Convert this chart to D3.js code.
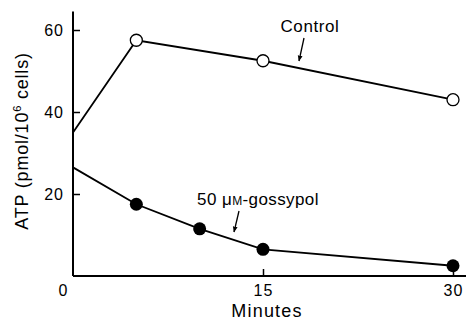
<!DOCTYPE html>
<html>
<head>
<meta charset="utf-8">
<script src="https://cdn.jsdelivr.net/npm/d3@7"></script>
<style>
  body { margin: 0; background: #fff; }
  svg { display: block; font-family: "Liberation Sans", Arial, sans-serif; }
</style>
</head>
<body>
<div class="chart"></div>
<script>
var svgWidth = 466;
var svgHeight = 322;

// data
var controlTimes = [0, 5, 15, 30];
var controlAtp = [35, 57.5, 52.5, 43];
var gossypolTimes = [0, 5, 10, 15, 30];
var gossypolAtp = [26.5, 17.5, 11.5, 6.5, 2.5];
var xTicks = [0, 15, 30];
var yTicks = [20, 40, 60];

var control = controlTimes.map((t, i) => ({ t: t, v: controlAtp[i] }));
var gossypol = gossypolTimes.map((t, i) => ({ t: t, v: gossypolAtp[i] }));

var svg = d3.select(".chart")
    .append("svg")
    .attr("width", svgWidth)
    .attr("height", svgHeight);

// scales
var x = d3.scaleLinear().domain([0, 30]).range([73, 453]);
var y = d3.scaleLinear().domain([0, 60]).range([276, 30]);

// axes lines
svg.append("line")
    .attr("x1", x(0)).attr("x2", 466)
    .attr("y1", y(0)).attr("y2", y(0))
    .attr("stroke", "#000").attr("stroke-width", 2);

svg.append("line")
    .attr("x1", x(0)).attr("x2", x(0))
    .attr("y1", y(0)).attr("y2", y(64.5))
    .attr("stroke", "#000").attr("stroke-width", 2);

// x axis (ticks point inward)
var bottomAxis = d3.axisBottom(x)
    .tickValues(xTicks)
    .tickSize(0)
    .tickPadding(0)
    .tickFormat(d3.format("d"));

var xg = svg.append("g")
    .attr("transform", `translate(0, ${y(0)})`)
    .call(bottomAxis);
xg.select(".domain").remove();
xg.selectAll("text")
    .attr("y", 20)
    .attr("dy", 0)
    .attr("x", d => d === 0 ? -10 : 0)
    .style("font-size", "16px")
    .style("letter-spacing", "1px")
    .style("font-family", "Liberation Sans, Arial, sans-serif")
    .attr("fill", "#000");
xg.selectAll(".tick").filter(d => d > 0)
    .append("line")
    .attr("y1", 0).attr("y2", -7)
    .attr("stroke", "#000").attr("stroke-width", 1.5);

// y axis
var leftAxis = d3.axisLeft(y)
    .tickValues(yTicks)
    .tickSize(0)
    .tickPadding(9);

var yg = svg.append("g")
    .attr("transform", `translate(${x(0)}, 0)`)
    .call(leftAxis);
yg.select(".domain").remove();
yg.selectAll("text")
    .style("font-size", "16px")
    .style("letter-spacing", "1px")
    .style("font-family", "Liberation Sans, Arial, sans-serif")
    .attr("fill", "#000");
yg.selectAll(".tick")
    .append("line")
    .attr("x1", 0).attr("x2", 7)
    .attr("stroke", "#000").attr("stroke-width", 1.5);

// lines
var line = d3.line()
    .x(d => x(d.t))
    .y(d => y(d.v));

svg.append("path")
    .datum(control)
    .attr("d", line)
    .attr("fill", "none")
    .attr("stroke", "#000")
    .attr("stroke-width", 1.8);

svg.append("path")
    .datum(gossypol)
    .attr("d", line)
    .attr("fill", "none")
    .attr("stroke", "#000")
    .attr("stroke-width", 1.8);

// markers (none at time zero)
svg.selectAll("circle.control")
    .data(control.filter(d => d.t > 0))
    .enter()
    .append("circle")
    .attr("class", "control")
    .attr("cx", d => x(d.t))
    .attr("cy", d => y(d.v))
    .attr("r", 6)
    .attr("fill", "#fff")
    .attr("stroke", "#000")
    .attr("stroke-width", 1.3);

svg.selectAll("circle.goss")
    .data(gossypol.filter(d => d.t > 0))
    .enter()
    .append("circle")
    .attr("class", "goss")
    .attr("cx", d => x(d.t))
    .attr("cy", d => y(d.v))
    .attr("r", 6.5)
    .attr("fill", "#000");

// arrowheads
svg.append("defs").append("marker")
    .attr("id", "arrow")
    .attr("viewBox", "0 0 10 10")
    .attr("refX", 9).attr("refY", 5)
    .attr("markerWidth", 6).attr("markerHeight", 6)
    .attr("markerUnits", "userSpaceOnUse")
    .attr("orient", "auto")
    .append("path")
    .attr("d", "M0,1 L10,5 L0,9 Z")
    .attr("fill", "#000");

// labels
svg.append("text")
    .attr("x", 310).attr("y", 32)
    .attr("text-anchor", "middle")
    .style("font-size", "17px")
    .style("letter-spacing", "0.6px")
    .text("Control");

svg.append("line")
    .attr("x1", 304).attr("y1", 38)
    .attr("x2", 299).attr("y2", 61)
    .attr("stroke", "#000").attr("stroke-width", 1.3)
    .attr("marker-end", "url(#arrow)");

var gl = svg.append("text")
    .attr("x", 258).attr("y", 205)
    .attr("text-anchor", "middle")
    .style("font-size", "17px")
    .style("letter-spacing", "0.4px");
gl.append("tspan").text("50 μ");
gl.append("tspan").style("font-size", "12px").text("M");
gl.append("tspan").text("-gossypol");

svg.append("line")
    .attr("x1", 239).attr("y1", 211)
    .attr("x2", 234).attr("y2", 232)
    .attr("stroke", "#000").attr("stroke-width", 1.3)
    .attr("marker-end", "url(#arrow)");

// axis titles
svg.append("text")
    .attr("transform", `translate(28, 141) rotate(-90)`)
    .attr("text-anchor", "middle")
    .style("font-size", "18px")
    .style("letter-spacing", "0.8px")
    .html("ATP (pmol/10<tspan dy='-7' font-size='11px'>6</tspan><tspan dy='7'> cells)</tspan>");

svg.append("text")
    .attr("x", 267).attr("y", 317)
    .attr("text-anchor", "middle")
    .style("font-size", "18px")
    .style("letter-spacing", "1.2px")
    .text("Minutes");
</script>
</body>
</html>
